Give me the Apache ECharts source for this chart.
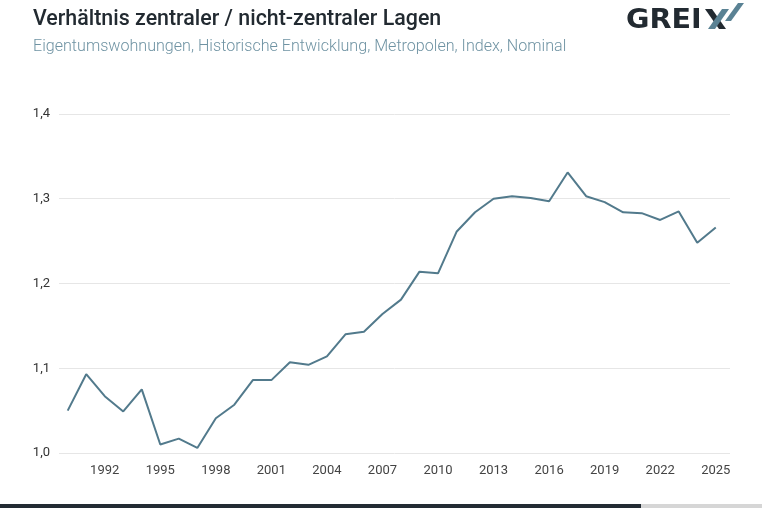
<!DOCTYPE html>
<html>
<head>
<meta charset="utf-8">
<script src="https://cdn.jsdelivr.net/npm/echarts@6/dist/echarts.min.js"></script>
<style>
  html, body { margin: 0; padding: 0; background: #fff; }
  #main { width: 762px; height: 508px; }
</style>
</head>
<body>
<div id="main"></div>
<script>
// Jahre und Werte (Verhältnis zentral / nicht-zentral)
var years = [1990, 1991, 1992, 1993, 1994, 1995, 1996, 1997, 1998, 1999,
             2000, 2001, 2002, 2003, 2004, 2005, 2006, 2007, 2008, 2009,
             2010, 2011, 2012, 2013, 2014, 2015, 2016, 2017, 2018, 2019,
             2020, 2021, 2022, 2023, 2024, 2025];
var ratio = [1.050, 1.093, 1.067, 1.049, 1.075, 1.010, 1.017, 1.006, 1.041, 1.057,
             1.086, 1.086, 1.107, 1.104, 1.114, 1.140, 1.143, 1.164, 1.181, 1.214,
             1.212, 1.261, 1.284, 1.300, 1.303, 1.301, 1.297, 1.331, 1.303, 1.296,
             1.284, 1.283, 1.275, 1.285, 1.248, 1.266];
var xTicks = [1992, 1995, 1998, 2001, 2004, 2007, 2010, 2013, 2016, 2019, 2022, 2025];

var myChart = echarts.init(document.getElementById('main'), null, { renderer: 'canvas' });

var points = [];
for (var i = 0; i < years.length; i++) {
    points.push([years[i], ratio[i]]);
}

var dark = '#222a31';
var blue = '#5a8294';

var option = {
    backgroundColor: '#fff',
    animation: false,
    textStyle: { fontFamily: 'Roboto' },
    title: {
        text: 'Verhältnis zentraler / nicht-zentraler Lagen',
        subtext: 'Eigentumswohnungen, Historische Entwicklung, Metropolen, Index, Nominal',
        left: 28,
        top: 4,
        itemGap: 9,
        textStyle: { fontFamily: 'Roboto', fontSize: 21.4, fontWeight: 500, color: dark },
        subtextStyle: { fontFamily: 'Roboto', fontSize: 16.1, fontWeight: 300, color: '#6f93a3' }
    },
    grid: { left: 59, right: 32, top: 114, bottom: 55 },
    xAxis: {
        type: 'value',
        min: 1989.53,
        max: 2025.77,
        axisLine: { show: false },
        axisTick: { show: false },
        splitLine: { show: false },
        axisLabel: {
            customValues: xTicks,
            color: '#444',
            fontSize: 13,
            margin: 11,
            formatter: function (v) { return String(v); }
        }
    },
    yAxis: {
        type: 'value',
        min: 1.0,
        max: 1.4,
        interval: 0.1,
        axisLine: { show: false },
        axisTick: { show: false },
        splitLine: { lineStyle: { color: '#e6e6e6', width: 1 } },
        axisLabel: {
            color: '#333',
            fontSize: 13,
            margin: 9,
            formatter: function (v) { return v.toFixed(1).replace('.', ','); }
        }
    },
    series: [{
        type: 'line',
        data: points,
        showSymbol: false,
        lineStyle: { color: '#527a8c', width: 2 },
        itemStyle: { color: '#527a8c' }
    }],
    graphic: [
        // GREIX Logo
        { type: 'text', x: 626, y: 7, scaleX: 1.06,
          style: { text: 'GREI', fontFamily: 'DejaVu Sans', fontWeight: 'bold', fontSize: 27, fill: dark } },
        { type: 'polygon', shape: { points: [[705, 9], [712, 9], [726, 29], [719, 29]] },
          style: { fill: dark } },
        { type: 'polygon', shape: { points: [[708, 29], [715, 29], [729, 9], [722, 9]] },
          style: { fill: blue } },
        { type: 'polygon', shape: { points: [[725, 21], [731, 21], [744, 3], [738, 3]] },
          style: { fill: blue } },
        // Balken unten
        { type: 'rect', shape: { x: 0, y: 504, width: 641, height: 4 }, style: { fill: '#232b33' } },
        { type: 'rect', shape: { x: 641, y: 504, width: 121, height: 4 }, style: { fill: '#d6d6d6' } }
    ]
};

myChart.setOption(option);
window.onresize = myChart.resize;
</script>
</body>
</html>
